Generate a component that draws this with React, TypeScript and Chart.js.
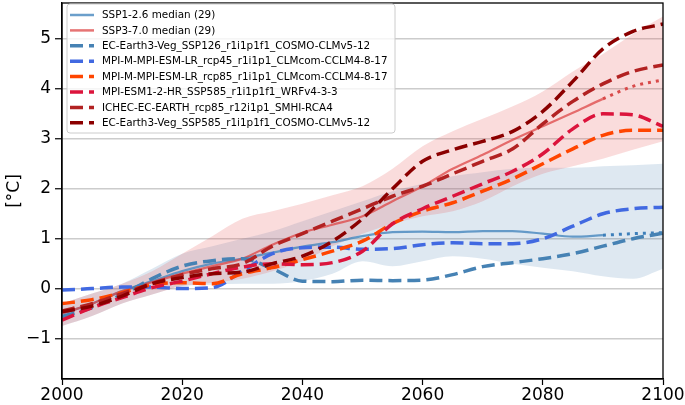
import React, { useEffect, useRef } from "react";
import { Chart, registerables } from "chart.js";
Chart.register(...registerables);

// ---------- data ----------
const years = [2000, 2005, 2010, 2015, 2020, 2025, 2030, 2035, 2040, 2045, 2050, 2055, 2060, 2065, 2070, 2075, 2080, 2085, 2090, 2095, 2100];

const ssp126Median = [-0.5, -0.3, -0.05, 0.15, 0.35, 0.5, 0.6, 0.72, 0.84, 0.93, 1.05, 1.13, 1.14, 1.13, 1.15, 1.15, 1.1, 1.04, 1.07, 1.1, 1.12];
const ssp370Median = [-0.5, -0.3, -0.05, 0.13, 0.3, 0.45, 0.6, 0.88, 1.12, 1.28, 1.45, 1.75, 2.05, 2.4, 2.68, 2.98, 3.25, 3.52, 3.8, 4.05, 4.18];

const ssp126Lower = [-0.75, -0.55, -0.3, -0.12, 0.05, 0.08, 0.1, 0.1, 0.15, 0.3, 0.55, 0.45, 0.55, 0.65, 0.6, 0.5, 0.42, 0.35, 0.25, 0.2, 0.4];
const ssp126Upper = [-0.3, -0.1, 0.1, 0.4, 0.7, 0.85, 1.0, 1.15, 1.35, 1.55, 1.75, 1.95, 2.1, 2.25, 2.33, 2.4, 2.42, 2.42, 2.45, 2.47, 2.5];
const ssp370Lower = [-0.75, -0.55, -0.3, -0.12, 0.05, 0.12, 0.2, 0.35, 0.55, 0.85, 1.1, 1.3, 1.45, 1.55, 1.75, 2.05, 2.3, 2.45, 2.6, 2.78, 2.95];
const ssp370Upper = [-0.3, -0.1, 0.1, 0.35, 0.7, 1.05, 1.4, 1.55, 1.7, 1.87, 2.05, 2.4, 2.85, 3.15, 3.4, 3.65, 3.95, 4.35, 4.7, 5.1, 5.45];

const ecEarthSsp126 = [-0.56, -0.38, -0.12, 0.2, 0.45, 0.56, 0.6, 0.4, 0.15, 0.14, 0.17, 0.16, 0.17, 0.28, 0.44, 0.52, 0.6, 0.7, 0.85, 1.0, 1.11];
const mpiRcp45 = [-0.03, 0.0, 0.03, 0.03, 0.0, 0.02, 0.35, 0.7, 0.82, 0.83, 0.79, 0.8, 0.88, 0.92, 0.9, 0.9, 1.0, 1.25, 1.5, 1.6, 1.63];
const mpiRcp85 = [-0.3, -0.22, -0.08, 0.08, 0.12, 0.1, 0.3, 0.42, 0.58, 0.75, 0.95, 1.3, 1.55, 1.72, 1.95, 2.2, 2.5, 2.8, 3.07, 3.17, 3.17];
const mpiEsm12Ssp585 = [-0.63, -0.38, -0.18, 0.02, 0.15, 0.3, 0.43, 0.5, 0.48, 0.52, 0.75, 1.3, 1.6, 1.85, 2.1, 2.35, 2.7, 3.2, 3.5, 3.48, 3.25];
const ichecRcp85 = [-0.45, -0.3, -0.1, 0.1, 0.28, 0.4, 0.5, 0.85, 1.1, 1.35, 1.6, 1.85, 2.05, 2.3, 2.55, 2.8, 3.3, 3.75, 4.1, 4.35, 4.48];
const ecEarthSsp585 = [-0.46, -0.35, -0.15, 0.1, 0.22, 0.3, 0.33, 0.5, 0.65, 0.95, 1.4, 2.0, 2.55, 2.78, 2.95, 3.15, 3.55, 4.15, 4.8, 5.15, 5.3];

const xTicks = [2000, 2020, 2040, 2060, 2080, 2100];
const yTicks = [-1, 0, 1, 2, 3, 4, 5];
const dottedFrom = 2090;

const labels = [
  "SSP1-2.6 median (29)",
  "SSP3-7.0 median (29)",
  "EC-Earth3-Veg_SSP126_r1i1p1f1_COSMO-CLMv5-12",
  "MPI-M-MPI-ESM-LR_rcp45_r1i1p1_CLMcom-CCLM4-8-17",
  "MPI-M-MPI-ESM-LR_rcp85_r1i1p1_CLMcom-CCLM4-8-17",
  "MPI-ESM1-2-HR_SSP585_r1i1p1f1_WRFv4-3-3",
  "ICHEC-EC-EARTH_rcp85_r12i1p1_SMHI-RCA4",
  "EC-Earth3-Veg_SSP585_r1i1p1f1_COSMO-CLMv5-12",
];

const FONT = "'DejaVu Sans', sans-serif";

export default function App() {
  const ref = useRef<HTMLCanvasElement>(null);
  useEffect(() => {
    const pts = (arr: number[]) => years.map((x, i) => ({ x, y: arr[i] }));
    const DASH = [13, 6];
    const medianDs = (label: string, arr: number[], color: string, dotColor: string, order: number) => ({
      label,
      data: pts(arr),
      borderColor: color,
      borderWidth: 2.2,
      pointRadius: 0,
      fill: false,
      cubicInterpolationMode: "monotone" as const,
      order,
      segment: {
        borderDash: (ctx: any) => (ctx.p0.parsed.x >= dottedFrom ? [3, 5] : undefined),
        borderColor: (ctx: any) => (ctx.p0.parsed.x >= dottedFrom ? dotColor : undefined),
        borderWidth: (ctx: any) => (ctx.p0.parsed.x >= dottedFrom ? 3 : undefined),
      },
      _legend: { dash: [] as number[], width: 2.5 },
    });
    const dashDs = (label: string, arr: number[], color: string, order: number) => ({
      label,
      data: pts(arr),
      borderColor: color,
      borderWidth: 3.5,
      borderDash: DASH,
      borderCapStyle: "butt" as const,
      pointRadius: 0,
      fill: false,
      cubicInterpolationMode: "monotone" as const,
      order,
      _legend: { dash: DASH, width: 3.5 },
    });
    const bandUpper = (arr: number[], color: string, order: number) => ({
      label: "_band",
      data: pts(arr),
      borderWidth: 0,
      borderColor: "transparent",
      backgroundColor: color,
      pointRadius: 0,
      fill: "+1",
      cubicInterpolationMode: "monotone" as const,
      order,
    });
    const bandLower = (arr: number[], order: number) => ({
      label: "_band",
      data: pts(arr),
      borderWidth: 0,
      borderColor: "transparent",
      pointRadius: 0,
      fill: false,
      cubicInterpolationMode: "monotone" as const,
      order,
    });

    const lineDs = [
      medianDs(labels[0], ssp126Median, "rgba(70,135,190,0.8)", "#3d7fba", 8),
      medianDs(labels[1], ssp370Median, "rgba(222,70,70,0.75)", "#d94a4a", 7),
      dashDs(labels[2], ecEarthSsp126, "#4682b4", 6),
      dashDs(labels[3], mpiRcp45, "#4169e1", 5),
      dashDs(labels[4], mpiRcp85, "#ff4500", 4),
      dashDs(labels[5], mpiEsm12Ssp585, "#dc143c", 3),
      dashDs(labels[6], ichecRcp85, "#b22222", 2),
      dashDs(labels[7], ecEarthSsp585, "#8b0000", 1),
    ];

    const datasets: any[] = [
      ...lineDs,
      bandUpper(ssp370Upper, "rgba(230,80,80,0.2)", 11),
      bandLower(ssp370Lower, 12),
      bandUpper(ssp126Upper, "rgba(70,130,180,0.18)", 13),
      bandLower(ssp126Lower, 14),
    ];

    const framePlugin = {
      id: "frameAndLegend",
      afterDraw(chart: any) {
        const { ctx, chartArea: a } = chart;
        ctx.save();
        ctx.strokeStyle = "#000";
        ctx.lineWidth = 1.3;
        ctx.strokeRect(a.left, a.top, a.right - a.left, a.bottom - a.top);

        // legend
        const bx = 67, by = 4, bw = 328, bh = 129, r = 3;
        ctx.beginPath();
        ctx.moveTo(bx + r, by);
        ctx.lineTo(bx + bw - r, by);
        ctx.quadraticCurveTo(bx + bw, by, bx + bw, by + r);
        ctx.lineTo(bx + bw, by + bh - r);
        ctx.quadraticCurveTo(bx + bw, by + bh, bx + bw - r, by + bh);
        ctx.lineTo(bx + r, by + bh);
        ctx.quadraticCurveTo(bx, by + bh, bx, by + bh - r);
        ctx.lineTo(bx, by + r);
        ctx.quadraticCurveTo(bx, by, bx + r, by);
        ctx.closePath();
        ctx.fillStyle = "rgba(255,255,255,0.8)";
        ctx.fill();
        ctx.strokeStyle = "#cccccc";
        ctx.lineWidth = 1;
        ctx.stroke();

        ctx.font = `10.4px ${FONT}`;
        ctx.textBaseline = "middle";
        ctx.textAlign = "left";
        lineDs.forEach((d: any, i: number) => {
          const y = 15 + i * 15.4;
          ctx.beginPath();
          ctx.setLineDash(d._legend.dash);
          ctx.lineCap = "butt";
          ctx.strokeStyle = d.borderColor;
          ctx.lineWidth = d._legend.width;
          ctx.moveTo(70, y);
          ctx.lineTo(94, y);
          ctx.stroke();
          ctx.setLineDash([]);
          ctx.fillStyle = "#000";
          ctx.fillText(d.label, 102, y + 0.5);
        });
        ctx.restore();
      },
    };

    const chart = new Chart(ref.current!, {
      type: "line",
      data: { datasets },
      options: {
        animation: false,
        responsive: false,
        layout: { padding: { left: 0, right: 22, top: 3, bottom: 0 } },
        plugins: { legend: { display: false }, tooltip: { enabled: false } },
        scales: {
          x: {
            type: "linear",
            min: 2000,
            max: 2100,
            afterBuildTicks: (s: any) => {
              s.ticks = xTicks.map((v) => ({ value: v }));
            },
            afterFit: (s: any) => {
              s.height = 26;
              s.paddingLeft = 0;
              s.paddingRight = 0;
            },
            grid: { drawOnChartArea: false, tickLength: 6, tickColor: "#000", tickWidth: 1.2 },
            border: { display: true, color: "#000", width: 1.3 },
            ticks: {
              autoSkip: false,
              maxRotation: 0,
              padding: 2,
              color: "#000",
              font: { family: FONT, size: 17, lineHeight: 1 },
              callback: (v: any) => String(v),
            },
          },
          y: {
            type: "linear",
            min: -1.81,
            max: 5.72,
            afterBuildTicks: (s: any) => {
              s.ticks = yTicks.map((v) => ({ value: v }));
            },
            afterFit: (s: any) => {
              s.width = 62;
              s.paddingTop = 0;
              s.paddingBottom = 0;
            },
            grid: { color: "#cccccc", lineWidth: 1.5, tickLength: 7, tickColor: "#000", tickWidth: 1.2 },
            border: { display: true, color: "#000", width: 1.3 },
            title: {
              display: true,
              text: "[°C]",
              color: "#000",
              font: { family: FONT, size: 17, lineHeight: 1.2 },
              padding: { top: 4, bottom: 0 },
            },
            ticks: {
              padding: 4,
              color: "#000",
              font: { family: FONT, size: 17, lineHeight: 1 },
              callback: (v: any) => (v < 0 ? "\u2212" + Math.abs(v) : String(v)),
            },
          },
        },
      },
      plugins: [framePlugin],
    } as any);
    return () => chart.destroy();
  }, []);
  return (
    <div style={{ position: "fixed", left: 0, top: 0, width: 685, height: 405, background: "#fff" }}>
      <canvas ref={ref} width={685} height={405} />
    </div>
  );
}
